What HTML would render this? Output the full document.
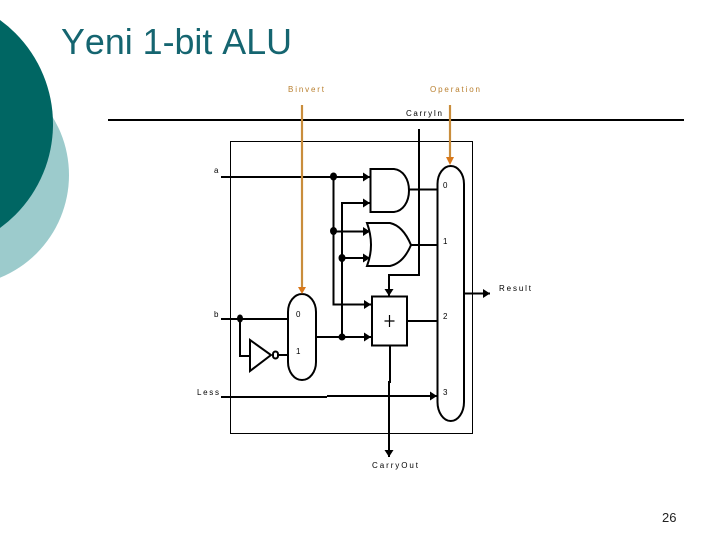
<!DOCTYPE html>
<html><head><meta charset="utf-8"><style>
html,body{margin:0;padding:0;background:#fff}
svg{display:block}
text{font-family:"Liberation Sans",sans-serif;font-size:8px;fill:#000;font-kerning:none}
.o{fill:#b97f2e}
</style></head><body>
<svg width="720" height="540" viewBox="0 0 720 540" xmlns="http://www.w3.org/2000/svg">
<defs>
<marker id="a" markerUnits="userSpaceOnUse" markerWidth="8" markerHeight="10" refX="7" refY="4.500" orient="auto"><path d="M0 0L7 4.500L0 9Z" fill="#000"/></marker>
</defs>
<rect width="720" height="540" fill="#fff"/>
<circle cx="-42" cy="175" r="111" fill="#9ccbcc"/>
<circle cx="-75.500" cy="124" r="128.500" fill="#006663"/>
<text x="61" y="54" textLength="231" lengthAdjust="spacingAndGlyphs" style="font-size:36px;fill:#156570">Yeni 1-bit ALU</text>
<text x="662" y="522" style="font-size:13px;fill:#222">26</text>

<path d="M108 120H684" stroke="#000" stroke-width="2" fill="none"/>
<rect x="230.500" y="141.500" width="242" height="292" fill="none" stroke="#000" stroke-width="1"/>

<g fill="none" stroke="#000" stroke-width="2">
<path d="M221 177H370" marker-end="url(#a)"/>
<path d="M333.500 177V304.500H371" marker-end="url(#a)"/>
<path d="M342 337V203H370" marker-end="url(#a)"/>
<path d="M333.500 231.500H370" marker-end="url(#a)"/>
<path d="M342 258H370" marker-end="url(#a)"/>
<path d="M316 337H371" marker-end="url(#a)"/>
<path d="M370.500 169H394C403 170 409 179 409 190.500C409 202 403 211 394 212H370.500Z"/>
<path d="M367 223H390C399 225 406 233 411 245C406 257 399 264 390 266H367Q375 245 367 223Z"/>
<path d="M409 189.500H437M411 245H437M407 321H437"/>
<path d="M419 129V275H389V296" marker-end="url(#a)"/>
<rect x="372" y="296.500" width="35" height="49" fill="#fff"/>
<path d="M390 345V382H389V457" marker-end="url(#a)"/>
<path d="M221 397H327M327 396H437"/>
<path d="M428 396H437" marker-end="url(#a)"/>
<path d="M437.500 184A13.250 18 0 0 1 464 184V402A13.250 19 0 0 1 437.500 402Z"/>
<path d="M288 312A14 18 0 0 1 316 312V362A14 18 0 0 1 288 362Z"/>
<path d="M464 293.500H490" marker-end="url(#a)"/>
<path d="M221 319H288"/>
<path d="M240 319V356H250"/>
<path d="M250 340V371L271 355Z"/>
<rect x="273" y="351.500" width="5" height="7" rx="2.500"/>
<path d="M278 355H288"/>
</g>
<path d="M384.500 321H394.500M389.500 315V327" stroke="#000" stroke-width="1.200" fill="none"/>
<g fill="#000">
<ellipse cx="333.500" cy="176.500" rx="3.500" ry="4"/>
<ellipse cx="333.500" cy="231" rx="3.500" ry="4"/>
<ellipse cx="342" cy="258" rx="3.500" ry="4"/>
<ellipse cx="342" cy="337" rx="3.500" ry="3.500"/>
<ellipse cx="240" cy="318.500" rx="3" ry="4"/>
</g>

<path d="M302 105V290M450 105V160" stroke="#c98d3c" stroke-width="2.200" fill="none"/>
<path d="M298 287H306L302 294ZM446 157H454L450 165Z" fill="#d9781a"/>

<text class="o" x="288" y="92" textLength="36" lengthAdjust="spacing">Binvert</text>
<text class="o" x="430" y="92" textLength="50" lengthAdjust="spacing">Operation</text>
<text x="406" y="116" textLength="36" lengthAdjust="spacing">CarryIn</text>
<text x="214" y="173">a</text>
<text x="443" y="188">0</text>
<text x="443" y="244">1</text>
<text x="443" y="319">2</text>
<text x="443" y="395">3</text>
<text x="214" y="317">b</text>
<text x="296" y="317">0</text>
<text x="296" y="354">1</text>
<text x="197" y="395" textLength="22" lengthAdjust="spacing">Less</text>
<text x="372" y="468" textLength="46" lengthAdjust="spacing">CarryOut</text>
<text x="499" y="291" textLength="32" lengthAdjust="spacing">Result</text>
</svg>
</body></html>
